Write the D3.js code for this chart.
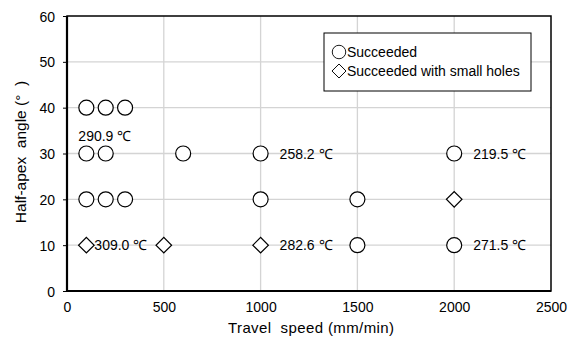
<!DOCTYPE html>
<html>
<head>
<meta charset="utf-8">
<script src="https://cdn.jsdelivr.net/npm/d3@7"></script>
<style>
  body { margin: 0; background: #fff; overflow: hidden; }
  svg { display: block; }
  text { font-family: "Liberation Sans", Arial, sans-serif; fill: #000; }
</style>
</head>
<body>
<svg id="chart"></svg>
<script>
// axis ticks
let xTicks = [0, 500, 1000, 1500, 2000, 2500]
let yTicks = [0, 10, 20, 30, 40, 50, 60]

// outcomes: circles succeeded, diamonds had small holes
let succeeded = [
  [100, 40], [200, 40], [300, 40],
  [100, 30], [200, 30], [600, 30], [1000, 30], [2000, 30],
  [100, 20], [200, 20], [300, 20], [1000, 20], [1500, 20],
  [1500, 10], [2000, 10],
]
let smallHoles = [[100, 10], [500, 10], [1000, 10], [2000, 20]]

// temperature notes: speed, angle, text, placement
let tempLabels = [
  { x: 100, y: 30, text: '290.9 \u2103', pos: 'above' },
  { x: 1000, y: 30, text: '258.2 \u2103', pos: 'right' },
  { x: 2000, y: 30, text: '219.5 \u2103', pos: 'right' },
  { x: 100, y: 10, text: '309.0 \u2103', pos: 'tight' },
  { x: 1000, y: 10, text: '282.6 \u2103', pos: 'right' },
  { x: 2000, y: 10, text: '271.5 \u2103', pos: 'right' },
]

let outerWidth = 570
let outerHeight = 340
let margins = { top: 16, bottom: 49, left: 67, right: 19 }
let innerWidth = outerWidth - margins.left - margins.right
let innerHeight = outerHeight - margins.top - margins.bottom

let svg = d3.select('svg#chart')
  .attr('width', outerWidth)
  .attr('height', outerHeight)

let inner = svg.append('g')
  .attr('transform', `translate(${margins.left},${margins.top})`)

let xScale = d3.scaleLinear().domain([0, 2500]).range([0, innerWidth])
let yScale = d3.scaleLinear().domain([0, 60]).range([innerHeight, 0])

// gridlines
inner.append('g')
  .selectAll('line')
  .data(xTicks.slice(1, -1))
  .join('line')
  .attr('x1', d => xScale(d)).attr('x2', d => xScale(d))
  .attr('y1', 0).attr('y2', innerHeight)
  .attr('stroke', '#d4d4d4').attr('stroke-width', 1.3)

inner.append('g')
  .selectAll('line')
  .data(yTicks.slice(1, -1))
  .join('line')
  .attr('x1', 0).attr('x2', innerWidth)
  .attr('y1', d => yScale(d)).attr('y2', d => yScale(d))
  .attr('stroke', '#d4d4d4').attr('stroke-width', 1.3)

// axes
let yAxis = d3.axisLeft(yScale).tickValues(yTicks).tickSize(4).tickPadding(8)
  .tickFormat(d3.format('d'))
let xAxis = d3.axisBottom(xScale).tickValues(xTicks).tickSize(0).tickPadding(11)
  .tickFormat(d3.format('d'))

let gy = inner.append('g').call(yAxis)
let gx = inner.append('g').attr('transform', `translate(0,${innerHeight})`).call(xAxis)
for (let g of [gx, gy]) {
  g.attr('font-family', null).attr('font-size', null)
  g.select('.domain').remove()
  g.selectAll('text').style('font-size', '14px').attr('dy', null)
  g.selectAll('line').attr('stroke', '#000')
}
// explicit baselines instead of em offsets
gx.selectAll('text').attr('y', 21)
gy.selectAll('text').attr('y', 5)

// frame
inner.append('rect')
  .attr('width', innerWidth).attr('height', innerHeight)
  .attr('fill', 'none').attr('stroke', '#000').attr('stroke-width', 1.5)
inner.append('line')
  .attr('x1', 0).attr('x2', 0).attr('y1', 0).attr('y2', innerHeight)
  .attr('stroke', '#000').attr('stroke-width', 2.2)
inner.append('line')
  .attr('x1', 0).attr('x2', innerWidth).attr('y1', innerHeight).attr('y2', innerHeight)
  .attr('stroke', '#000').attr('stroke-width', 2.2)

// markers
let circleSym = d3.symbol().type(d3.symbolCircle).size(Math.PI * 7.5 * 7.5)
let diamondSym = d3.symbol().type(d3.symbolSquare).size(11 * 11)

inner.selectAll('path.ok')
  .data(succeeded)
  .join('path')
  .attr('class', 'ok')
  .attr('d', circleSym)
  .attr('transform', d => `translate(${xScale(d[0])},${yScale(d[1])})`)
  .attr('fill', '#fff').attr('stroke', '#000').attr('stroke-width', 1.2)

inner.selectAll('path.holes')
  .data(smallHoles)
  .join('path')
  .attr('class', 'holes')
  .attr('d', diamondSym)
  .attr('transform', d => `translate(${xScale(d[0])},${yScale(d[1])}) rotate(45)`)
  .attr('fill', '#fff').attr('stroke', '#000').attr('stroke-width', 1.2)

// temperature labels
inner.selectAll('text.temp')
  .data(tempLabels)
  .join('text')
  .attr('class', 'temp')
  .attr('x', d => xScale(d.x) + (d.pos === 'above' ? -8 : d.pos === 'tight' ? 8 : 19))
  .attr('y', d => yScale(d.y) + (d.pos === 'above' ? -13 : 5))
  .style('font-size', '14px')
  .text(d => d.text)

// axis titles
svg.append('text')
  .attr('x', 311)
  .attr('y', 333)
  .attr('text-anchor', 'middle')
  .attr('textLength', 166)
  .attr('lengthAdjust', 'spacing')
  .style('font-size', '15px')
  .style('white-space', 'pre')
  .text('Travel  speed (mm/min)')

svg.append('text')
  .attr('transform', 'translate(26,152) rotate(-90)')
  .attr('text-anchor', 'middle')
  .style('font-size', '15.5px')
  .style('white-space', 'pre')
  .text('Half-apex  angle (\u00b0  )')

// legend
let legend = svg.append('g').attr('transform', 'translate(324,33)')
legend.append('rect')
  .attr('width', 207).attr('height', 58)
  .attr('fill', '#fff').attr('stroke', '#000').attr('stroke-width', 1)
let legendItems = [
  { label: 'Succeeded', sym: circleSym, rot: 0 },
  { label: 'Succeeded with small holes', sym: diamondSym, rot: 45 },
]
legendItems.forEach((item, i) => {
  let cy = 19 + i * 19
  legend.append('path')
    .attr('d', item.sym)
    .attr('transform', `translate(15,${cy}) rotate(${item.rot}) scale(0.9)`)
    .attr('fill', '#fff').attr('stroke', '#000').attr('stroke-width', 1)
  legend.append('text')
    .attr('x', 23).attr('y', cy + 5)
    .style('font-size', '14px')
    .text(item.label)
})
</script>
</body>
</html>
